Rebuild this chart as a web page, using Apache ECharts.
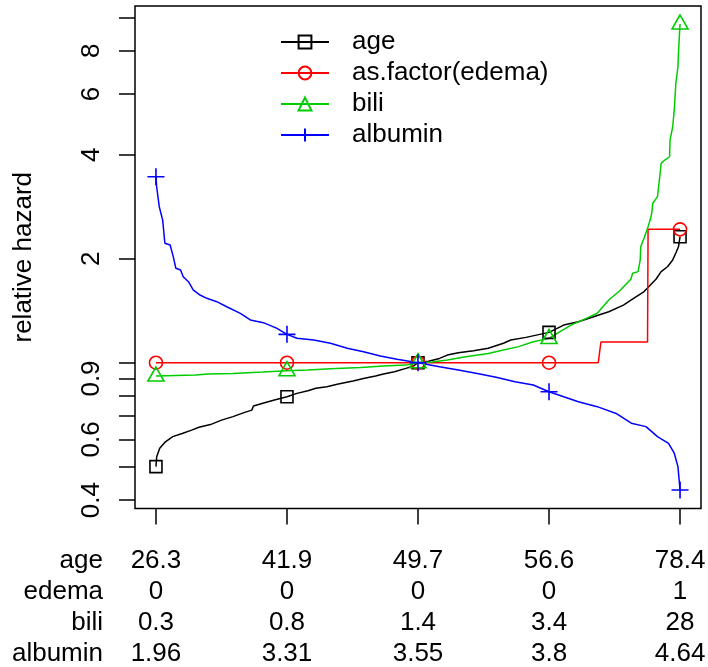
<!DOCTYPE html>
<html>
<head>
<meta charset="utf-8">
<script src="https://cdn.jsdelivr.net/npm/echarts@6/dist/echarts.min.js"></script>
<style>
  html, body { margin: 0; padding: 0; background: #fff; }
  #chart { width: 708px; height: 667px; }
</style>
</head>
<body>
<div id="chart"></div>
<script>
// Quantile positions along the horizontal axis: min, 25%, median, 75%, max
const tickPositions = [0, 0.25, 0.5, 0.75, 1];

// Covariate values printed under each quantile
const rowNames = ['age', 'edema', 'bili', 'albumin'];
const ageTicks = ['26.3', '41.9', '49.7', '56.6', '78.4'];
const edemaTicks = ['0', '0', '0', '0', '1'];
const biliTicks = ['0.3', '0.8', '1.4', '3.4', '28'];
const albuminTicks = ['1.96', '3.31', '3.55', '3.8', '4.64'];

// Relative hazard axis (log scale): tick marks and labelled ticks
const hazardTicks = [0.4, 0.5, 0.6, 0.7, 0.8, 0.9, 1, 2, 4, 6, 8, 10];
const hazardLabels = [0.4, 0.6, 0.9, 2, 4, 6, 8];

// Curves: [quantile, relative hazard]
const ageCurve = [
  [0, 0.500], [0.0014, 0.534], [0.0072, 0.565], [0.018, 0.590], [0.032, 0.611],
  [0.050, 0.624], [0.068, 0.638], [0.082, 0.650], [0.104, 0.662], [0.125, 0.682],
  [0.147, 0.698], [0.168, 0.717], [0.183, 0.729], [0.186, 0.749], [0.204, 0.763],
  [0.226, 0.780], [0.25, 0.797], [0.269, 0.815], [0.290, 0.829], [0.305, 0.843],
  [0.326, 0.852], [0.348, 0.868], [0.376, 0.885], [0.398, 0.901], [0.419, 0.915],
  [0.434, 0.927], [0.455, 0.942], [0.477, 0.963], [0.491, 0.978], [0.5, 1.000],
  [0.520, 1.010], [0.541, 1.029], [0.556, 1.052], [0.577, 1.069], [0.606, 1.083],
  [0.634, 1.101], [0.663, 1.138], [0.677, 1.163], [0.706, 1.184], [0.75, 1.224],
  [0.778, 1.285], [0.806, 1.314], [0.835, 1.359], [0.864, 1.405], [0.892, 1.468],
  [0.907, 1.519], [0.930, 1.600], [0.954, 1.744], [0.964, 1.835], [0.976, 1.896],
  [0.986, 1.984], [0.992, 2.077], [0.997, 2.166], [1, 2.316]
];
const edemaCurve = [
  [0, 1], [0.25, 1], [0.5, 1], [0.75, 1], [0.844, 1],
  [0.849, 1.148], [0.938, 1.148], [0.939, 2.433], [1, 2.433]
];
const biliCurve = [
  [0, 0.915], [0.075, 0.921], [0.1, 0.927], [0.147, 0.931], [0.204, 0.940],
  [0.25, 0.948], [0.29, 0.952], [0.333, 0.961], [0.391, 0.969], [0.434, 0.978],
  [0.477, 0.984], [0.5, 1.000], [0.527, 1.004], [0.556, 1.018], [0.591, 1.041],
  [0.634, 1.064], [0.663, 1.088], [0.692, 1.113], [0.72, 1.150], [0.75, 1.176],
  [0.771, 1.230], [0.792, 1.285], [0.821, 1.344], [0.842, 1.390], [0.864, 1.519],
  [0.885, 1.616], [0.906, 1.744], [0.9096, 1.815], [0.920, 1.835], [0.924, 1.984],
  [0.925, 2.166], [0.932, 2.307], [0.939, 2.477], [0.943, 2.588], [0.946, 2.707],
  [0.948, 2.895], [0.957, 3.025], [0.962, 3.536], [0.964, 3.777], [0.971, 3.862],
  [0.980, 3.947], [0.981, 4.415], [0.986, 4.821], [0.989, 5.393], [0.992, 6.443],
  [0.996, 7.192], [0.997, 7.869], [0.999, 8.990], [1, 9.564]
];
const albuminCurve = [
  [0, 3.456], [0.0013, 3.232], [0.0063, 2.829], [0.0128, 2.588], [0.017, 2.217],
  [0.027, 2.192], [0.033, 2.028], [0.038, 1.876], [0.047, 1.855], [0.052, 1.774],
  [0.062, 1.716], [0.071, 1.624], [0.084, 1.570], [0.097, 1.536], [0.116, 1.502],
  [0.135, 1.452], [0.161, 1.390], [0.180, 1.330], [0.205, 1.306], [0.231, 1.257],
  [0.25, 1.208], [0.269, 1.177], [0.301, 1.163], [0.333, 1.138], [0.365, 1.101],
  [0.396, 1.076], [0.428, 1.046], [0.460, 1.023], [0.5, 1.000], [0.541, 0.973],
  [0.577, 0.952], [0.613, 0.931], [0.649, 0.907], [0.685, 0.881], [0.720, 0.862],
  [0.75, 0.824], [0.778, 0.797], [0.806, 0.771], [0.842, 0.746], [0.878, 0.713],
  [0.907, 0.668], [0.935, 0.653], [0.957, 0.611], [0.978, 0.584], [0.989, 0.547],
  [0.996, 0.500], [1, 0.428]
];

const FONT = 'Liberation Sans, Arial, Helvetica, sans-serif';
const FS = 26;
const LINE_H = 31;

const isTick = q => tickPositions.some(t => Math.abs(t - q) < 1e-9);

// One line series per term; the symbol is shown only at the quantile positions
function termSeries(name, curve, color, symbol, size, offset) {
  return {
    name: name,
    type: 'line',
    symbol: symbol,
    symbolSize: size,
    symbolOffset: offset || [0, 0],
    showAllSymbol: true,
    silent: true,
    animation: false,
    itemStyle: { color: 'transparent', borderColor: color, borderWidth: 1.6 },
    lineStyle: { color: color, width: 1.5 },
    emphasis: { disabled: true },
    data: curve.map(([q, hr]) => {
      const item = { value: [q, Math.log(hr)] };
      if (!isTick(q)) item.symbol = 'none';
      return item;
    })
  };
}

const chart = echarts.init(document.getElementById('chart'), null, { renderer: 'canvas' });

chart.setOption({
  animation: false,
  backgroundColor: '#fff',
  textStyle: { fontFamily: FONT, color: '#000' },
  grid: {
    left: 135, right: 7, top: 6, bottom: 158.5,
    show: true, borderColor: '#000', borderWidth: 1.5,
    backgroundColor: 'transparent',
    outerBoundsMode: 'none'
  },
  legend: {
    orient: 'vertical',
    left: 280, top: 26.5,
    padding: 0, itemGap: 0,
    itemWidth: 48, itemHeight: 16,
    selectedMode: false,
    textStyle: { fontFamily: FONT, fontSize: FS, color: '#000', lineHeight: LINE_H, padding: [0, 0, 0, 18] },
    data: ['age', 'as.factor(edema)', 'bili', 'albumin']
  },
  xAxis: {
    type: 'value',
    min: -0.04, max: 1.04,
    axisLine: { show: false, onZero: false },
    splitLine: { show: false },
    axisTick: {
      show: true, length: 16,
      lineStyle: { color: '#000', width: 1.5 },
      customValues: tickPositions
    },
    axisLabel: {
      customValues: tickPositions,
      margin: 37,
      fontFamily: FONT, fontSize: FS, color: '#000', lineHeight: LINE_H,
      formatter: v => {
        const i = tickPositions.findIndex(t => Math.abs(t - v) < 1e-9);
        if (i < 0) return '';
        return [ageTicks[i], edemaTicks[i], biliTicks[i], albuminTicks[i]].join('\n');
      }
    }
  },
  yAxis: {
    type: 'value',
    min: -0.972, max: 2.378,
    axisLine: { show: false, onZero: false },
    splitLine: { show: false },
    axisTick: {
      show: true, length: 16,
      lineStyle: { color: '#000', width: 1.5 },
      customValues: hazardTicks.map(Math.log)
    },
    axisLabel: {
      customValues: hazardLabels.map(Math.log),
      rotate: 90,
      margin: 30,
      fontFamily: FONT, fontSize: FS, color: '#000',
      formatter: v => String(+Math.exp(v).toPrecision(2))
    },
    name: 'relative hazard',
    nameLocation: 'middle',
    nameGap: 98,
    nameTextStyle: { fontFamily: FONT, fontSize: FS, color: '#000' }
  },
  graphic: [{
    type: 'text',
    x: 103, y: 508.5 + 37,
    silent: true,
    style: {
      text: rowNames.join('\n'),
      fontFamily: FONT, fontSize: FS, lineHeight: LINE_H,
      fill: '#000', align: 'right', verticalAlign: 'top'
    }
  }],
  series: [
    termSeries('age', ageCurve, '#000000', 'rect', 12),
    termSeries('as.factor(edema)', edemaCurve, '#FF0000', 'circle', 13),
    termSeries('bili', biliCurve, '#00CD00', 'triangle', [16, 14], [0, -2]),
    termSeries('albumin', albuminCurve, '#0000FF', 'path://M0,8L16,8M8,0L8,16', 17)
  ]
});
</script>
</body>
</html>
